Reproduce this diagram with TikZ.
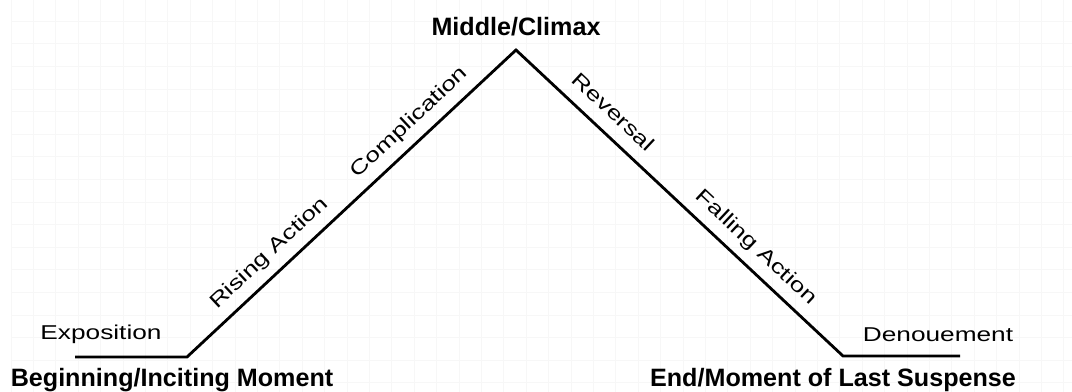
\documentclass[tikz,border=0pt]{standalone}
\usepackage{fontspec}
\setmainfont{Liberation Sans}
\newcommand{\stagetext}[1]{\scalebox{1.31}[1]{#1}}

\begin{document}
\begin{tikzpicture}[x=0.02cm, y=0.02cm,
    gridline/.style={black!3, line width=0.5pt},
    plotline/.style={line width=1.6pt, line join=miter},
    pointlabel/.style={font=\fontsize{14.3}{16}\selectfont\bfseries, anchor=base, inner sep=0pt},
    stagelabel/.style={font=\fontsize{11.4}{13}\selectfont, text height=8.3pt, text depth=2.4pt}]
    \useasboundingbox (0,0) rectangle (1072,392);
    % faint background grid
    \foreach \gx in {0,...,47} \draw[gridline] ({11+22.4*\gx},0) -- ({11+22.4*\gx},392);
    \foreach \gy in {1,...,17} \draw[gridline] (11,{393.4-22.6*\gy}) -- (1072,{393.4-22.6*\gy});
    % the plot line
    \coordinate (begin) at (75,35);
    \coordinate (incite) at (187,35);
    \coordinate (climax) at (516,342);
    \coordinate (suspense) at (843,36);
    \coordinate (end) at (960,36);
    \draw[plotline] (begin) -- (incite) -- (climax) -- (suspense) -- (end);
    \path (incite) -- (climax)
        node[stagelabel, sloped, above, inner sep=5.5pt, pos=0.291] (rising) {\stagetext{Rising Action}}
        node[stagelabel, sloped, above, inner sep=5.5pt, pos=0.717] (complication) {\stagetext{Complication}};
    \path (climax) -- (suspense)
        node[stagelabel, sloped, above, inner sep=5.5pt, pos=0.254] (reversal) {\stagetext{Reversal}}
        node[stagelabel, sloped, above, inner sep=5.5pt, pos=0.693] (falling) {\stagetext{Falling Action}};
    % labels
    \node[stagelabel, anchor=base, inner sep=0pt] (exposition) at (101,52) {\stagetext{Exposition}};
    \node[stagelabel, anchor=base, inner sep=0pt] (denouement) at (938,50) {\stagetext{Denouement}};
    \node[pointlabel] (middle) at (516,356) {Middle/Climax};
    \node[pointlabel] (beginning) at (172,5) {Beginning/Inciting Moment};
    \node[pointlabel] (last) at (833,5) {End/Moment of Last Suspense};
\end{tikzpicture}
\end{document}
